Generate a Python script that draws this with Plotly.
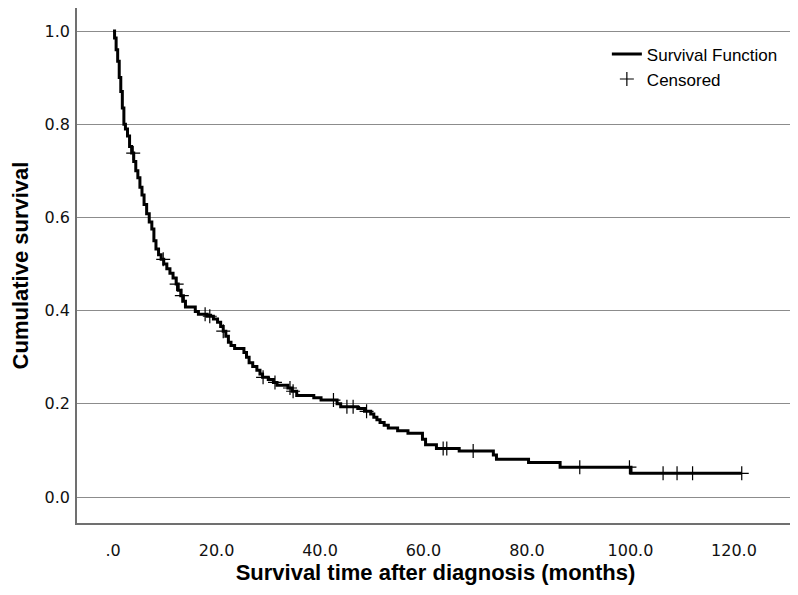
import numpy as np
import plotly.graph_objects as go

# Kaplan-Meier step points (months, cumulative survival)
event_times = [0, 0.3, 0.6, 0.9, 1.2, 1.5, 1.8, 2.1, 2.4, 2.8, 3.2, 3.6, 4.0, 4.4, 4.8,
               5.2, 5.6, 6.0, 6.5, 7.0, 7.5, 7.9, 8.3, 8.8, 9.3, 9.8, 10.4, 11.0, 11.6,
               12.2, 12.6, 13.1, 13.6, 14.0, 15.9, 16.5, 18.2, 19.4, 20.2, 20.8, 21.3,
               21.8, 22.3, 22.8, 23.5, 25.3, 25.8, 26.3, 27.0, 27.8, 28.4, 28.9, 30.0,
               31.0, 31.7, 33.8, 34.6, 35.5, 38.8, 40.2, 43.3, 44.0, 47.3, 48.6, 49.8,
               50.4, 51.0, 51.6, 52.4, 53.2, 55.0, 57.0, 59.8, 60.4, 62.5, 66.9, 73.5,
               74.1, 80.3, 86.4, 100.1, 121.5]
survival = [1.0, 0.985, 0.96, 0.935, 0.90, 0.87, 0.835, 0.80, 0.79, 0.775, 0.752, 0.738,
            0.72, 0.70, 0.685, 0.665, 0.648, 0.628, 0.608, 0.59, 0.575, 0.55, 0.532, 0.52,
            0.51, 0.50, 0.49, 0.48, 0.47, 0.457, 0.444, 0.432, 0.42, 0.408, 0.398, 0.392,
            0.388, 0.382, 0.375, 0.366, 0.356, 0.345, 0.332, 0.325, 0.319, 0.31, 0.30,
            0.288, 0.28, 0.272, 0.264, 0.257, 0.252, 0.246, 0.24, 0.234, 0.227, 0.218,
            0.213, 0.208, 0.20, 0.194, 0.19, 0.184, 0.178, 0.171, 0.166, 0.16, 0.154,
            0.148, 0.142, 0.137, 0.124, 0.112, 0.104, 0.099, 0.09, 0.081, 0.074, 0.064,
            0.051, 0.051]

censor_times = [3.9, 9.7, 12.3, 13.3, 17.8, 18.7, 21.3, 29.0, 31.3, 34.2, 34.8, 42.6,
                45.2, 46.4, 49.0, 63.8, 64.5, 69.6, 90.2, 99.8, 106.3, 109.0, 112.0, 121.5]

x_ticks = [0, 20, 40, 60, 80, 100, 120]
x_tick_labels = [".0", "20.0", "40.0", "60.0", "80.0", "100.0", "120.0"]
y_ticks = [0.0, 0.2, 0.4, 0.6, 0.8, 1.0]
y_tick_labels = ["0.0", "0.2", "0.4", "0.6", "0.8", "1.0"]

et = np.array(event_times)
sv = np.array(survival)
idx = np.searchsorted(et, np.array(censor_times), side="right") - 1
censor_surv = sv[idx]

FONT = "Liberation Sans, Arial, Helvetica, sans-serif"
TICKFONT = "DejaVu Sans, Liberation Sans, sans-serif"

fig = go.Figure()
fig.add_trace(go.Scatter(
    x=event_times, y=survival, mode="lines", line_shape="hv",
    line=dict(color="black", width=3), name="Survival Function",
))
fig.add_trace(go.Scatter(
    x=censor_times, y=censor_surv, mode="markers", name="Censored",
    marker=dict(symbol="cross-thin", size=10, line=dict(color="black", width=1.2)),
))

fig.update_layout(
    width=790, height=587,
    margin=dict(l=69, r=4, t=0, b=72),
    paper_bgcolor="white", plot_bgcolor="white",
    font=dict(family=FONT, color="black"),
    legend=dict(x=0.739, y=0.945, xanchor="left", yanchor="top",
                font=dict(size=17, family=FONT), bgcolor="rgba(0,0,0,0)",
                tracegroupgap=0, itemwidth=30),
    showlegend=True,
)
fig.update_xaxes(
    range=[-6.96, 131.6], tickvals=x_ticks, ticktext=x_tick_labels,
    showgrid=False, zeroline=False, showline=True, linecolor="#707070", linewidth=1.5,
    ticks="", ticklabelstandoff=12, tickfont=dict(size=16, family=TICKFONT, color="#111"),
    title=dict(text="<b>Survival time after diagnosis (months)</b>",
               font=dict(size=22, family=FONT), standoff=5),
)
fig.update_yaxes(
    range=[-0.0557, 1.0494], tickvals=y_ticks, ticktext=y_tick_labels,
    showgrid=True, gridcolor="#8c8c8c", gridwidth=1, zeroline=False,
    showline=True, linecolor="#707070", linewidth=1.5,
    ticks="", ticklabelstandoff=2, tickfont=dict(size=16, family=TICKFONT, color="#111"),
    title=dict(text="<b>Cumulative survival</b>", font=dict(size=22, family=FONT),
               standoff=19),
)

fig.write_html("out.html")
